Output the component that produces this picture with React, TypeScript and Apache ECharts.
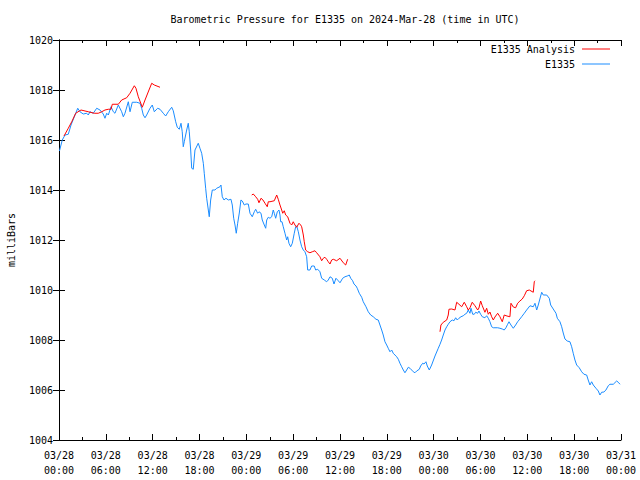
import React, { useEffect, useRef } from "react";
import * as echarts from "echarts";

// Hours since 2024-03-28 00:00 UTC
const e1335Hours = [
  0.06, 0.42, 0.77, 1.19, 1.54, 2.05, 2.4, 2.69, 3.11, 3.55, 3.75, 3.97, 4.39, 4.83, 5.25, 5.67, 5.89, 6.11, 6.32, 6.66,
  6.96, 7.17, 7.6, 8.03, 8.24, 8.45, 8.88, 9.1, 9.39, 9.95, 10.38, 10.59, 10.8, 11.02, 11.23, 11.66, 11.95, 12.21, 12.64, 12.94,
  13.36, 13.67, 14.0, 14.44, 14.64, 14.95, 15.15, 15.41, 15.63, 15.79, 15.92, 16.05, 16.36, 16.56, 16.69, 16.87, 17.0, 17.2, 17.42, 17.84,
  18.06, 18.28, 18.49, 18.61, 18.79, 18.92, 19.13, 19.25, 19.43, 19.64, 19.98, 20.2, 20.62, 20.75, 20.92, 21.14, 21.39, 21.69, 22.03, 22.2,
  22.38, 22.55, 22.71, 22.89, 23.1, 23.31, 23.48, 23.74, 23.95, 24.25, 24.47, 24.76, 25.02, 25.2, 25.45, 25.62, 25.88, 26.04, 26.3, 26.48,
  26.61, 26.81, 27.03, 27.25, 27.45, 27.58, 27.76, 27.97, 28.18, 28.31, 28.4, 28.57, 28.73, 28.95, 29.17, 29.3, 29.46, 29.68, 29.89, 30.14,
  30.32, 30.45, 30.66, 30.87, 31.09, 31.3, 31.51, 31.73, 31.86, 32.15, 32.37, 32.7, 32.88, 33.14, 33.43, 33.65, 33.99, 34.29, 34.5, 34.72,
  35.01, 35.23, 35.48, 35.78, 36.0, 36.34, 36.64, 36.93, 37.19, 37.37, 37.62, 37.79, 38.05, 38.21, 38.47, 38.78, 38.98, 39.33, 39.62, 39.93,
  40.26, 40.61, 40.9, 41.12, 41.34, 41.54, 41.76, 41.98, 42.18, 42.4, 42.62, 42.82, 43.04, 43.26, 43.47, 43.68, 43.9, 44.11, 44.32, 44.54,
  44.75, 44.96, 45.18, 45.39, 45.6, 45.82, 46.16, 46.33, 46.59, 46.76, 47.01, 47.18, 47.44, 47.74, 48.17, 48.59, 48.81, 49.02, 49.23, 49.45,
  49.67, 49.87, 50.09, 50.38, 50.6, 50.82, 51.02, 51.24, 51.5, 51.79, 52.01, 52.23, 52.43, 52.65, 52.78, 53.0, 53.2, 53.38, 53.64, 53.8,
  54.02, 54.23, 54.57, 54.79, 55.0, 55.21, 55.43, 55.64, 56.2, 56.49, 56.79, 57.04, 57.26, 57.48, 57.65, 57.9, 58.2, 58.5, 58.76, 59.05,
  59.27, 59.61, 59.91, 60.34, 60.76, 60.98, 61.2, 61.4, 61.84, 62.04, 62.48, 62.81, 62.99, 63.32, 63.67, 63.84, 64.18, 64.4, 64.6, 64.82,
  65.11, 65.46, 65.68, 65.88, 66.1, 66.32, 66.65, 66.96, 67.25, 67.6, 67.8, 68.02, 68.24, 68.45, 68.79, 69.09, 69.3, 69.52, 69.81, 70.07,
  70.37, 70.58, 71.01, 71.44, 71.65, 71.87,
];
const e1335Values = [
  1015.56, 1016.0, 1016.2, 1016.23, 1016.6, 1017.0, 1017.27, 1017.13, 1017.04, 1017.07, 1017.0, 1017.13, 1017.07, 1017.27, 1017.2, 1017.04, 1016.87, 1017.07, 1017.0, 1017.33,
  1017.13, 1017.07, 1017.4, 1017.13, 1016.93, 1017.07, 1017.53, 1017.13, 1017.51, 1017.51, 1017.47, 1017.27, 1017.0, 1016.89, 1017.0, 1017.27, 1017.4, 1017.13, 1017.27, 1017.23,
  1017.07, 1016.96, 1017.13, 1017.31, 1017.17, 1016.73, 1016.51, 1016.43, 1016.67, 1016.33, 1015.73, 1015.93, 1016.4, 1016.67, 1016.33, 1015.6, 1014.87, 1014.83, 1015.6, 1015.87,
  1015.67, 1015.47, 1015.07, 1014.67, 1014.07, 1013.67, 1013.2, 1012.93, 1013.6, 1014.0, 1014.0, 1014.07, 1014.13, 1014.2, 1013.73, 1013.6, 1013.67, 1013.6, 1013.63, 1013.4,
  1012.87, 1012.6, 1012.27, 1012.67, 1013.08, 1013.6, 1013.56, 1013.4, 1013.44, 1013.44, 1013.07, 1012.93, 1013.13, 1013.23, 1013.07, 1013.13, 1013.07, 1012.8, 1012.6, 1012.47,
  1012.8, 1012.91, 1012.87, 1012.93, 1013.2, 1013.07, 1012.87, 1013.13, 1013.2, 1013.0, 1012.73, 1012.73, 1012.53, 1012.27, 1012.0, 1012.13, 1011.87, 1011.73, 1011.87, 1012.27,
  1012.53, 1012.56, 1012.33, 1012.0, 1011.73, 1011.6, 1011.53, 1011.33, 1010.8, 1010.8, 1010.96, 1010.96, 1010.8, 1010.83, 1010.73, 1010.47, 1010.4, 1010.33, 1010.4, 1010.53,
  1010.47, 1010.24, 1010.47, 1010.37, 1010.29, 1010.47, 1010.53, 1010.56, 1010.6, 1010.47, 1010.37, 1010.24, 1010.16, 1010.07, 1009.87, 1009.71, 1009.53, 1009.33, 1009.13, 1009.0,
  1008.93, 1008.83, 1008.8, 1008.6, 1008.4, 1008.2, 1007.93, 1007.8, 1007.67, 1007.53, 1007.6, 1007.47, 1007.4, 1007.33, 1007.23, 1007.07, 1006.93, 1006.8, 1006.69, 1006.8,
  1006.91, 1006.87, 1006.8, 1006.73, 1006.69, 1006.76, 1006.83, 1006.96, 1007.07, 1007.04, 1007.13, 1006.96, 1006.8, 1007.0, 1007.36, 1007.67, 1007.83, 1008.0, 1008.2, 1008.4,
  1008.53, 1008.63, 1008.73, 1008.8, 1008.77, 1008.89, 1008.8, 1008.87, 1008.93, 1008.97, 1009.03, 1009.07, 1009.2, 1009.07, 1009.27, 1009.03, 1009.03, 1009.11, 1009.07, 1009.16,
  1009.03, 1008.93, 1008.89, 1008.97, 1008.87, 1008.73, 1008.53, 1008.49, 1008.49, 1008.47, 1008.44, 1008.4, 1008.49, 1008.63, 1008.73, 1008.6, 1008.47, 1008.6, 1008.73, 1008.84,
  1008.93, 1009.07, 1009.2, 1009.37, 1009.33, 1009.47, 1009.2, 1009.4, 1009.91, 1009.8, 1009.8, 1009.67, 1009.4, 1009.24, 1009.07, 1008.87, 1008.73, 1008.53, 1008.28, 1008.04,
  1007.96, 1007.93, 1007.73, 1007.47, 1007.2, 1007.0, 1006.89, 1006.73, 1006.63, 1006.6, 1006.4, 1006.2, 1006.33, 1006.2, 1006.07, 1005.96, 1005.8, 1005.91, 1005.92, 1006.0,
  1006.17, 1006.23, 1006.23, 1006.36, 1006.31, 1006.23,
];

// E1335 Analysis, three runs
const analysis1Hours = [0.64, 1.19, 1.63, 2.14, 2.82, 3.75, 4.52, 5.03, 5.47, 5.89, 6.32, 6.66, 6.83, 7.6, 8.03, 8.67, 9.1, 9.65, 9.86, 10.16, 10.67, 11.02, 11.53, 11.88, 12.21, 12.94];
const analysis1Values = [1016.16, 1016.47, 1016.73, 1017.07, 1017.2, 1017.13, 1017.07, 1017.07, 1017.13, 1017.2, 1017.23, 1017.23, 1017.43, 1017.43, 1017.6, 1017.69, 1017.87, 1018.17, 1018.07, 1017.73, 1017.31, 1017.6, 1018.0, 1018.27, 1018.2, 1018.11];

const analysis2Hours = [24.69, 24.89, 25.2, 25.45, 25.62, 25.88, 26.13, 26.39, 26.68, 26.81, 27.03, 27.58, 27.89, 28.09, 28.31, 28.53, 28.66, 28.86, 29.04, 29.3, 29.59, 29.81, 30.01, 30.23, 30.45, 30.74, 30.96, 31.09, 31.3, 31.42, 31.6, 31.86, 32.15, 32.45, 32.79, 33.01, 33.43, 33.65, 33.86, 34.07, 34.29, 34.5, 34.72, 34.93, 35.14, 35.57, 36.0, 36.42, 36.73, 36.98];
const analysis2Values = [1013.8, 1013.84, 1013.73, 1013.63, 1013.49, 1013.67, 1013.6, 1013.47, 1013.33, 1013.53, 1013.53, 1013.57, 1013.8, 1013.63, 1013.4, 1013.2, 1013.07, 1013.17, 1013.0, 1012.93, 1012.67, 1012.6, 1012.73, 1012.6, 1012.51, 1012.67, 1012.6, 1012.53, 1012.2, 1011.93, 1011.6, 1011.53, 1011.49, 1011.53, 1011.57, 1011.49, 1011.33, 1011.17, 1011.27, 1011.31, 1011.23, 1011.13, 1011.04, 1011.2, 1011.23, 1011.17, 1011.27, 1011.09, 1011.0, 1011.23];

const analysis3Hours = [48.81, 48.93, 49.23, 49.67, 49.87, 49.96, 50.31, 50.73, 50.95, 51.24, 51.59, 51.92, 52.23, 52.43, 52.65, 52.94, 53.29, 53.64, 53.8, 54.02, 54.23, 54.57, 54.79, 55.0, 55.21, 55.43, 55.64, 55.85, 56.2, 56.49, 56.79, 57.04, 57.39, 57.77, 57.9, 58.2, 58.5, 58.76, 59.05, 59.35, 59.61, 59.91, 60.25, 60.76, 60.89, 60.98];
const analysis3Values = [1008.33, 1008.6, 1008.71, 1008.8, 1009.0, 1009.23, 1009.24, 1009.2, 1009.51, 1009.43, 1009.33, 1009.51, 1009.33, 1009.2, 1009.29, 1009.51, 1009.37, 1009.2, 1009.28, 1009.56, 1009.37, 1009.11, 1009.27, 1009.03, 1009.12, 1008.93, 1008.8, 1008.92, 1009.07, 1008.93, 1008.73, 1009.0, 1008.96, 1008.93, 1009.47, 1009.32, 1009.29, 1009.47, 1009.56, 1009.64, 1009.77, 1009.97, 1010.0, 1009.91, 1010.33, 1010.37];

const xTickLabels = [
  "03/28\n00:00", "03/28\n06:00", "03/28\n12:00", "03/28\n18:00",
  "03/29\n00:00", "03/29\n06:00", "03/29\n12:00", "03/29\n18:00",
  "03/30\n00:00", "03/30\n06:00", "03/30\n12:00", "03/30\n18:00",
  "03/31\n00:00",
];
const yTickLabels = ["1004", "1006", "1008", "1010", "1012", "1014", "1016", "1018", "1020"];

const FONT = "DejaVu Sans Mono";

export default function App() {
  const ref = useRef<HTMLDivElement>(null);
  useEffect(() => {
    if (!ref.current) return;
    const chart = echarts.init(ref.current, null, { renderer: "svg" });
    const pair = (hs: number[], vs: number[]) => hs.map((h, i) => [h, vs[i]]);
    const blueData = pair(e1335Hours, e1335Values);
    const redData: any[] = [
      ...pair(analysis1Hours, analysis1Values),
      [18, "-"],
      ...pair(analysis2Hours, analysis2Values),
      [42, "-"],
      ...pair(analysis3Hours, analysis3Values),
    ];
    const textBase = { fontFamily: FONT, fontSize: 10, color: "#000" };
    const xCommon = {
      type: "value" as const,
      min: 0,
      max: 72,
      interval: 6,
      axisLine: { show: true, lineStyle: { color: "#000", width: 1 } },
      axisTick: { show: true, inside: true, length: 6, lineStyle: { color: "#000" } },
      minorTick: { show: true, splitNumber: 2, length: 3, lineStyle: { color: "#000" } },
      splitLine: { show: false },
    };
    const yCommon = {
      type: "value" as const,
      min: 1004,
      max: 1020,
      interval: 2,
      axisLine: { show: true, lineStyle: { color: "#000", width: 1 } },
      axisTick: { show: true, inside: true, length: 6, lineStyle: { color: "#000" } },
      splitLine: { show: false },
    };
    chart.setOption({
      animation: false,
      backgroundColor: "#fff",
      title: {
        text: "Barometric Pressure for E1335 on 2024-Mar-28 (time in UTC)",
        left: 340,
        textAlign: "center",
        top: 9,
        textStyle: { ...textBase, fontWeight: "normal" },
      },
      legend: [
        {
          data: ["E1335 Analysis"],
          right: 30,
          top: 44,
          padding: 0,
          align: "right",
          icon: "rect",
          itemWidth: 28,
          itemHeight: 1,
          textStyle: { ...textBase, padding: [0, 2, 0, 0] },
        },
        {
          data: ["E1335"],
          right: 30,
          top: 59,
          padding: 0,
          align: "right",
          icon: "rect",
          itemWidth: 28,
          itemHeight: 1,
          textStyle: { ...textBase, padding: [0, 2, 0, 0] },
        },
      ],
      grid: { left: 59, right: 19, top: 40, bottom: 40, containLabel: false, outerBoundsMode: "none" },
      xAxis: [
        {
          ...xCommon,
          position: "bottom",
          axisLabel: {
            ...textBase,
            margin: 8,
            lineHeight: 15,
            formatter: (v: number) => xTickLabels[Math.round(v / 6)] ?? "",
          },
        },
        {
          ...xCommon,
          position: "top",
          axisLabel: { show: false },
        },
      ],
      yAxis: [
        {
          ...yCommon,
          position: "left",
          name: "milliBars",
          nameLocation: "middle",
          nameRotate: 90,
          nameGap: 43,
          nameTextStyle: { ...textBase },
          axisLabel: {
            ...textBase,
            margin: 6,
            formatter: (v: number) => yTickLabels[Math.round((v - 1004) / 2)] ?? "",
          },
        },
        {
          ...yCommon,
          position: "right",
          axisLabel: { show: false },
        },
      ],
      series: [
        {
          name: "E1335 Analysis",
          type: "line",
          data: redData,
          symbol: "none",
          showSymbol: false,
          connectNulls: false,
          lineStyle: { color: "#ff0000", width: 1 },
          itemStyle: { color: "#ff0000" },
          z: 3,
        },
        {
          name: "E1335",
          type: "line",
          data: blueData,
          symbol: "none",
          showSymbol: false,
          lineStyle: { color: "#1a8cff", width: 1 },
          itemStyle: { color: "#1a8cff" },
          z: 2,
        },
      ],
    });
    return () => chart.dispose();
  }, []);
  return <div ref={ref} style={{ width: 640, height: 480, position: "absolute", left: 0, top: 0 }} />;
}
